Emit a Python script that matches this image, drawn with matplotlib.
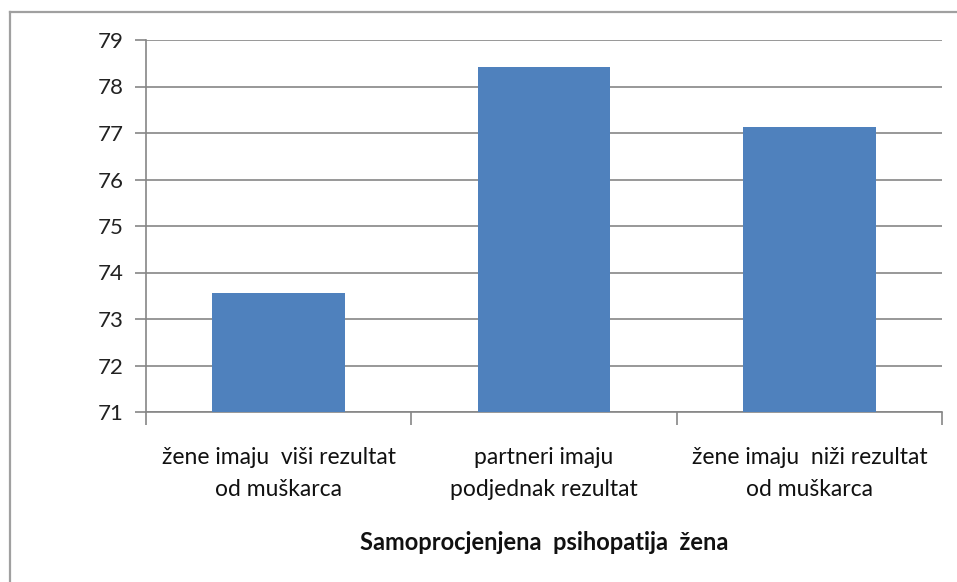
import matplotlib
matplotlib.use("Agg")
import matplotlib.pyplot as plt
from matplotlib.lines import Line2D

categories = ["žene imaju  viši rezultat\nod muškarca",
              "partneri imaju\npodjednak rezultat",
              "žene imaju  niži rezultat\nod muškarca"]
values = [73.55, 78.42, 77.13]
yticks = [71, 72, 73, 74, 75, 76, 77, 78, 79]
xlabel = "Samoprocjenjena  psihopatija  žena"

plt.rcParams['font.family'] = ['Lato', 'DejaVu Sans']

fig = plt.figure(figsize=(9.57, 5.82), dpi=100)
bx, by = 9.5 / 957, 1 - 12 / 582
fig.add_artist(Line2D([bx, bx], [0, by], transform=fig.transFigure, color='#a0a0a0', linewidth=1.6))
fig.add_artist(Line2D([bx, 1], [by, by], transform=fig.transFigure, color='#a0a0a0', linewidth=1.6))
ax = fig.add_axes([146/957, 1-412/582, (942-146)/957, (412-40)/582])

x = list(range(len(categories)))
ax.bar(x, [v - 71 for v in values], bottom=71, width=0.5, color='#4f81bd', zorder=3)
ax.set_xlim(-0.5, len(categories) - 0.5)
ax.set_ylim(71, 79)
ax.set_yticks(yticks)
ax.set_yticklabels([str(t) for t in yticks], fontsize=16, color='#222222')
ax.yaxis.grid(True, color='#868686', linewidth=1.2, zorder=0)
ax.set_xticks([i + 0.5 for i in range(-1, len(categories))])
ax.set_xticklabels([])
ax.set_xticks(x, minor=True)
ax.set_xticklabels(categories, minor=True, fontsize=16.5, color='#111111', linespacing=1.65)
ax.tick_params(axis='x', which='minor', length=0, pad=25)
ax.tick_params(axis='x', which='major', length=9, color='#868686', width=1.2)
ax.tick_params(axis='y', length=8, color='#868686', width=1.2, pad=8)
for s in ['top', 'right']:
    ax.spines[s].set_visible(False)
for s in ['left', 'bottom']:
    ax.spines[s].set_color('#868686')
    ax.spines[s].set_linewidth(1.2)
fig.text((146+942)/2/957, 1-542/582, xlabel, ha='center', va='center',
         fontsize=17, fontweight='bold', color='#111111')

fig.savefig("out.png", dpi=100)
